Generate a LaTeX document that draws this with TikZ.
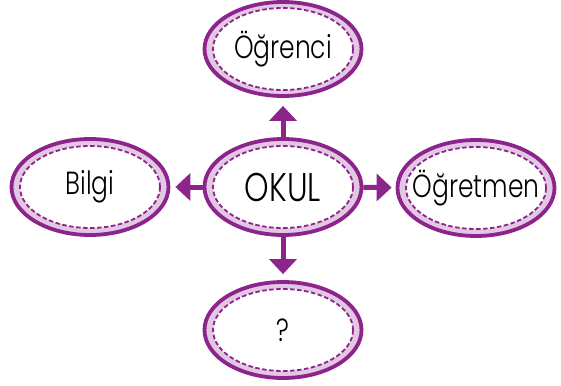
\documentclass[tikz,border=0pt]{standalone}
\usepackage{fontspec}
\setmainfont{Poppins Light}[FakeStretch=0.78]
\usepackage{tikz}
\usetikzlibrary{shapes.geometric,arrows.meta}
\usepackage{xcolor}
\definecolor{mor}{RGB}{140,36,140}
\definecolor{acikmor}{RGB}{226,200,226}
\newcommand\yazi[1]{\makebox[0pt]{#1}}
\tikzset{
  balon/.style={ellipse,draw=mor,line width=3.8pt,fill=acikmor,
    minimum width=157pt,minimum height=96pt,inner sep=0pt,font=\fontsize{32}{36}\selectfont,
    path picture={\draw[mor,fill=white,line width=1.8pt,dash pattern=on 4.5pt off 2.5pt]
      (path picture bounding box.center) ellipse (70pt and 41pt);}},
  ok/.style={line width=5pt,mor,-{Triangle[width=27pt,length=15pt]}}
}

\begin{document}
\begin{tikzpicture}[x=1pt,y=-1pt]
  \useasboundingbox (0,0) rectangle (561,385);
  \node[balon,font=\fontsize{40}{44}\selectfont] (okul) at (283,187) {\yazi{OKUL}};
  \node[balon,minimum height=94pt] (ogrenci) at (283,49) {\yazi{Öğrenci}};
  \node[balon] (bilgi) at (90,187) {\yazi{Bilgi}};
  \node[balon] (ogretmen) at (476,188) {\yazi{Öğretmen}};
  \node[balon] (soru) at (283,330) {\yazi{?}};
  \draw[ok,shorten >=8pt] (okul) -- (ogrenci);
  \draw[ok,shorten >=6pt] (okul) -- (soru);
  \draw[ok,shorten >=4pt] (okul) -- (ogretmen);
  \draw[ok,shorten >=5pt] (okul) -- (bilgi);
\end{tikzpicture}
\end{document}
